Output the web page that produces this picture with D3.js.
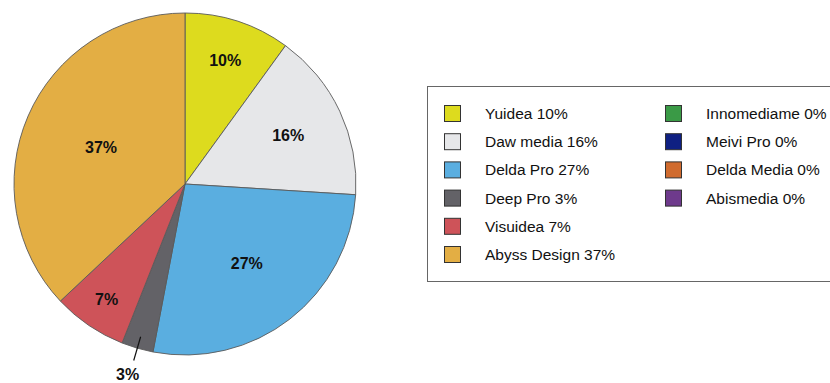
<!DOCTYPE html>
<html>
<head>
<meta charset="utf-8">
<script src="https://cdn.jsdelivr.net/npm/d3@7/dist/d3.min.js"></script>
<style>
  html, body { margin: 0; padding: 0; background: #ffffff; overflow: hidden; }
  svg { display: block; font-family: "Liberation Sans", Arial, sans-serif; }
</style>
</head>
<body>
<svg id="chart" width="830" height="383"></svg>
<script>
// Market share by studio (percent)
const categories = ["Yuidea", "Daw media", "Delda Pro", "Deep Pro", "Visuidea", "Abyss Design",
                    "Innomediame", "Meivi Pro", "Delda Media", "Abismedia"];
const shares = [10, 16, 27, 3, 7, 37, 0, 0, 0, 0];
const colors = ["#dddb1e", "#e6e7e9", "#5aaee0", "#636267", "#ce5359", "#e3ae44",
                "#3a9a46", "#0f2082", "#d06b2e", "#6e3a8c"];

const data = categories.map((c, i) => ({ name: c, value: shares[i], color: colors[i] }));

const svg = d3.select("#chart");
const cx = 185, cy = 184, R = 171;

const pie = d3.pie().sort(null).value(d => d.value);
const arcs = pie(data);
const arc = d3.arc().innerRadius(0).outerRadius(R);

const g = svg.append("g").attr("transform", `translate(${cx},${cy})`);

g.selectAll("path.slice")
  .data(arcs.filter(a => a.data.value > 0))
  .join("path")
  .attr("class", "slice")
  .attr("d", arc)
  .attr("fill", d => d.data.color)
  .attr("stroke", "#5a5a5a")
  .attr("stroke-width", 0.9);

// Labels sit further out in narrow wedges so they stay clear of the edges
const labelFrac = d3.scaleLinear()
  .domain([0.07, 0.10, 0.16, 0.27, 0.37])
  .range([0.816, 0.76, 0.667, 0.59, 0.535])
  .clamp(true);

const total = d3.sum(shares);
arcs.filter(a => a.data.value > 0).forEach(a => {
  const share = a.data.value / total;
  const mid = (a.startAngle + a.endAngle) / 2;
  const dx = Math.sin(mid), dy = -Math.cos(mid);
  const text = a.data.value + "%";
  if (share < 0.05) {
    // small wedge: label outside with a leader line
    g.append("line")
      .attr("x1", dx * R * 0.93).attr("y1", dy * R * 0.93)
      .attr("x2", dx * R * 1.075).attr("y2", dy * R * 1.075)
      .attr("stroke", "#111").attr("stroke-width", 1.2);
    g.append("text")
      .attr("x", dx * R * 1.16 - 2).attr("y", dy * R * 1.16)
      .attr("text-anchor", "middle").attr("dominant-baseline", "central")
      .attr("font-size", 16).attr("font-weight", "bold").attr("fill", "#111")
      .text(text);
  } else {
    const r = R * labelFrac(share);
    g.append("text")
      .attr("x", dx * r).attr("y", dy * r)
      .attr("text-anchor", "middle").attr("dominant-baseline", "central")
      .attr("font-size", 16).attr("font-weight", "bold").attr("fill", "#111")
      .text(text);
  }
});

// Legend
const legend = svg.append("g");
legend.append("rect")
  .attr("x", 427.5).attr("y", 86.5)
  .attr("width", 420).attr("height", 195)
  .attr("fill", "#ffffff").attr("stroke", "#666").attr("stroke-width", 1);

const rowsPerCol = 6, rowH = 28.2;
const colX = [444, 665];
data.forEach((d, i) => {
  const col = Math.floor(i / rowsPerCol), row = i % rowsPerCol;
  const x = colX[col], y = 105 + row * rowH;
  legend.append("rect")
    .attr("x", x + 0.5).attr("y", y + 0.5)
    .attr("width", 16).attr("height", 16)
    .attr("fill", d.color).attr("stroke", "#333").attr("stroke-width", 1);
  legend.append("text")
    .attr("x", x + 41).attr("y", y + 8.5)
    .attr("dominant-baseline", "central")
    .attr("font-size", 15.5).attr("fill", "#111")
    .text(`${d.name} ${d.value}%`);
});
</script>
</body>
</html>
